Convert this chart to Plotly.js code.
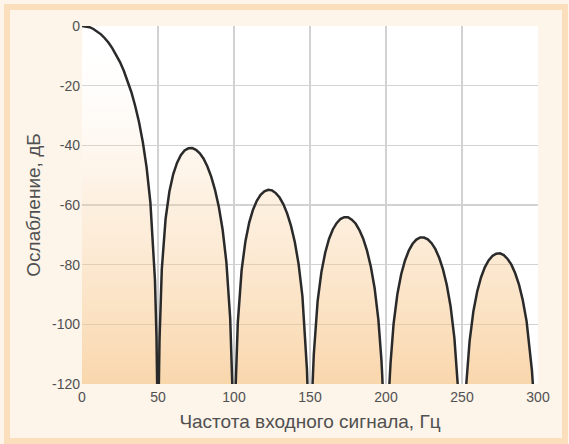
<!DOCTYPE html>
<html>
<head>
<meta charset="utf-8">
<script src="https://cdn.plot.ly/plotly-3.0.1.min.js"></script>
<style>
  html, body { margin: 0; padding: 0; background: #fdf4ea; }
  #chart { width: 569px; height: 444px; }
</style>
</head>
<body>
<div id="chart"></div>
<script>
// ---- data (null separates the lobes) ----
var freqHz = [
  0, 2.5, 5, 7.5, 10, 12.5, 15, 17.5, 20, 22.5, 25, 27.5, 30, 32.5, 35, 37.5, 40, 42.5, 45, 47.5, 48, 49, 49.44,
  null,
  50.56, 51, 52.5, 55, 57.5, 60, 62.5, 65, 67.5, 70, 72.5, 75, 77.5, 80, 82.5, 85, 87.5, 90, 92.5, 95, 97.5, 98, 98.87,
  null,
  101.13, 102, 102.5, 105, 107.5, 110, 112.5, 115, 117.5, 120, 122.5, 125, 127.5, 130, 132.5, 135, 137.5, 140, 142.5, 145, 147.5, 148, 148.31,
  null,
  151.69, 152, 152.5, 155, 157.5, 160, 162.5, 165, 167.5, 170, 172.5, 175, 177.5, 180, 182.5, 185, 187.5, 190, 192.5, 195, 196, 197, 197.5, 197.75,
  null,
  202.25, 202.5, 203, 205, 207.5, 210, 212.5, 215, 217.5, 220, 222.5, 225, 227.5, 230, 232.5, 235, 237.5, 240, 242.5, 245, 246, 247.18,
  null,
  252.82, 253, 254, 255, 257.5, 260, 262.5, 265, 267.5, 270, 272.5, 275, 277.5, 280, 282.5, 285, 287.5, 290, 292.5, 295, 296, 296.62
];
var attenDb = [
  0, -0.1, -0.4, -1.0, -1.8, -2.8, -4.1, -5.6, -7.5, -9.6, -12.1, -15.0, -18.3, -22.2, -26.8, -32.2, -38.9, -47.4, -59.2, -78.9, -85.1, -104.1, -120,
  null,
  -120, -105.2, -81.6, -64.6, -55.5, -49.7, -45.9, -43.3, -41.7, -41.0, -40.9, -41.5, -42.7, -44.5, -47.1, -50.5, -54.9, -60.6, -68.2, -79.2, -98.1, -104.2, -120,
  null,
  -120, -105.3, -99.5, -81.9, -72.2, -65.9, -61.6, -58.6, -56.6, -55.4, -54.9, -55.1, -56.0, -57.5, -59.8, -62.9, -67.0, -72.4, -79.8, -90.5, -109.2, -115.2, -120,
  null,
  -120, -115.9, -110.1, -92.3, -82.5, -76.0, -71.4, -68.2, -66.1, -64.7, -64.1, -64.1, -64.9, -66.2, -68.4, -71.3, -75.3, -80.6, -87.8, -98.5, -104.4, -112.1, -117.0, -120,
  null,
  -120, -117.7, -112.9, -99.8, -89.8, -83.2, -78.6, -75.3, -73.0, -71.6, -70.9, -70.9, -71.5, -72.8, -74.8, -77.7, -81.6, -86.8, -94.0, -104.6, -110.5, -120,
  null,
  -120, -118.8, -111.3, -105.6, -95.6, -89.0, -84.3, -80.9, -78.6, -77.1, -76.3, -76.2, -76.8, -78.1, -80.0, -82.9, -86.7, -91.9, -99.0, -109.5, -115.4, -120
];
var xTickVals = [0, 50, 100, 150, 200, 250, 300];
var xTickText = ['0', '50', '100', '150', '200', '250', '300'];
var yTickVals = [0, -20, -40, -60, -80, -100, -120];
var yTickText = ['0', '-20', '-40', '-60', '-80', '-100', '-120'];
var xRange = [0, 300];
var yRange = [-120, 0];
var xTitle = 'Частота входного сигнала, Гц';
var yTitle = 'Ослабление, дБ';

// ---- fill polygons: each lobe closed down to the axis floor ----
var fillX = [], fillY = [];
var segStart = true;
for (var i = 0; i < freqHz.length; i++) {
  if (freqHz[i] === null) { fillX.push(null); fillY.push(null); segStart = true; continue; }
  if (segStart) { fillX.push(freqHz[i]); fillY.push(yRange[0]); segStart = false; }
  fillX.push(freqHz[i]); fillY.push(attenDb[i]);
}

var fillTrace = {
  x: fillX, y: fillY, type: 'scatter', mode: 'none',
  fill: 'toself', connectgaps: false,
  fillcolor: 'rgba(248,198,138,0.4)',
  fillgradient: {
    type: 'vertical',
    start: yRange[0], stop: yRange[1],
    colorscale: [[0, 'rgba(246,194,130,0.66)'], [0.55, 'rgba(249,208,158,0.28)'], [1, 'rgba(255,255,255,0)']]
  },
  hoverinfo: 'skip', showlegend: false
};
var lineTrace = {
  x: freqHz, y: attenDb, type: 'scatter', mode: 'lines', connectgaps: false,
  line: { color: '#2a2a2a', width: 2.5 },
  showlegend: false
};

var px = function (v) { return (v - 82) / 456; };
var py = function (v) { return (384 - v) / 358; };

var layout = {
  width: 569, height: 444,
  margin: { l: 82, r: 31, t: 26, b: 60, pad: 0 },
  paper_bgcolor: '#fdf4ea',
  plot_bgcolor: '#ffffff',
  font: { family: 'Liberation Sans, Arial, sans-serif', color: '#505050' },
  showlegend: false,
  xaxis: {
    range: xRange, tickvals: xTickVals, ticktext: xTickText, ticks: '', showline: false, zeroline: false,
    showgrid: true, gridcolor: '#d2d2d2', gridwidth: 1.5,
    tickfont: { size: 14, color: '#505050' },
    ticklabelstandoff: 3,
    title: { text: xTitle, font: { size: 19, color: '#505050' }, standoff: 10 }
  },
  yaxis: {
    range: yRange, tickvals: yTickVals, ticktext: yTickText, ticks: '', showline: false, zeroline: false,
    showgrid: true, gridcolor: '#d2d2d2', gridwidth: 1.5,
    tickfont: { size: 14, color: '#505050' },
    ticklabelstandoff: 1,
    title: { text: yTitle, font: { size: 19, color: '#505050' }, standoff: 6 }
  },
  shapes: [
    { type: 'rect', xref: 'paper', yref: 'paper', layer: 'below',
      x0: px(7), x1: px(565), y0: py(441), y1: py(7),
      line: { color: '#fbdfbd', width: 6 }, fillcolor: 'rgba(0,0,0,0)' }
  ]
};

Plotly.newPlot('chart', [fillTrace, lineTrace], layout, { displayModeBar: false, staticPlot: true });
</script>
</body>
</html>
